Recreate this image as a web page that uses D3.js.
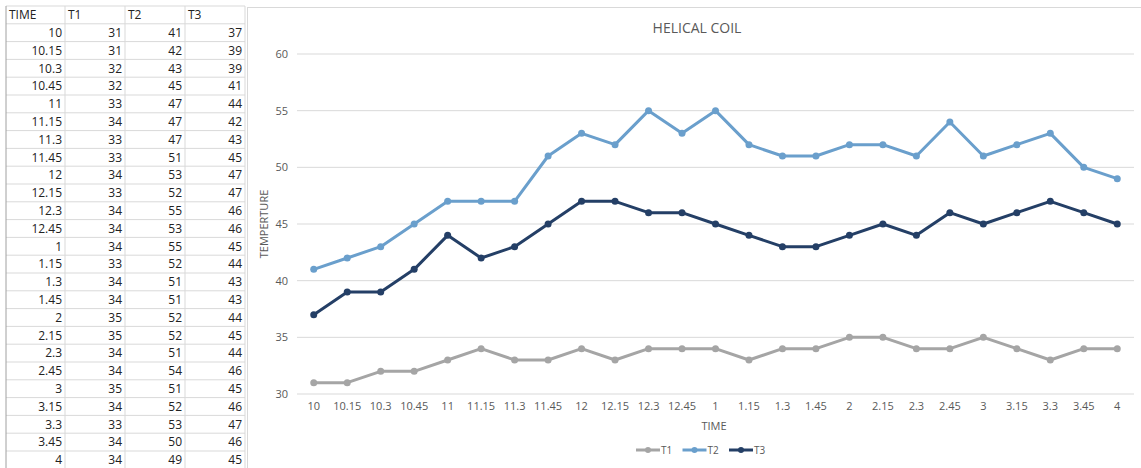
<!DOCTYPE html>
<html>
<head>
<meta charset="utf-8">
<script src="https://cdn.jsdelivr.net/npm/d3@7"></script>
<style>
  body { margin: 0; background: #fff; }
  svg { display: block; font-family: "Open Sans", "Noto Sans", sans-serif; }
</style>
</head>
<body>
<svg id="sheet" width="1141" height="468"></svg>
<script>
const times = ["10", "10.15", "10.3", "10.45", "11", "11.15", "11.3", "11.45", "12", "12.15", "12.3", "12.45",
  "1", "1.15", "1.3", "1.45", "2", "2.15", "2.3", "2.45", "3", "3.15", "3.3", "3.45", "4"];
const t1 = [31, 31, 32, 32, 33, 34, 33, 33, 34, 33, 34, 34, 34, 33, 34, 34, 35, 35, 34, 34, 35, 34, 33, 34, 34];
const t2 = [41, 42, 43, 45, 47, 47, 47, 51, 53, 52, 55, 53, 55, 52, 51, 51, 52, 52, 51, 54, 51, 52, 53, 50, 49];
const t3 = [37, 39, 39, 41, 44, 42, 43, 45, 47, 47, 46, 46, 45, 44, 43, 43, 44, 45, 44, 46, 45, 46, 47, 46, 45];
const headers = ["TIME", "T1", "T2", "T3"];
const yTicks = [30, 35, 40, 45, 50, 55, 60];

const series = [
  { name: "T1", values: t1, color: "#a5a5a5" },
  { name: "T2", values: t2, color: "#6a9fcc" },
  { name: "T3", values: t3, color: "#243f66" }
];

const svg = d3.select("#sheet");

// ---- spreadsheet table on the left ----
const colX = [6, 65, 125, 185, 245];
const rowTop = 6, rowH = 17.8;
const table = svg.append("g").attr("font-size", 12).attr("fill", "#222");
const rows = times.map((t, i) => [t, t1[i], t2[i], t3[i]]);

// grid lines
const nRows = rows.length + 1;
for (let r = 0; r <= nRows; r++) {
  table.append("line")
    .attr("x1", colX[0]).attr("x2", colX[4])
    .attr("y1", rowTop + r * rowH).attr("y2", rowTop + r * rowH)
    .attr("stroke", "#d9d9d9");
}
colX.forEach((x, i) => {
  table.append("line")
    .attr("x1", x).attr("x2", x)
    .attr("y1", rowTop).attr("y2", 468)
    .attr("stroke", i === 0 ? "#a0a0a0" : "#d9d9d9");
});

headers.forEach((h, i) => {
  table.append("text")
    .attr("x", colX[i] + 3).attr("y", rowTop + rowH / 2)
    .attr("dy", "0.35em")
    .text(h);
});
rows.forEach((row, r) => {
  row.forEach((v, c) => {
    table.append("text")
      .attr("x", colX[c + 1] - 3)
      .attr("y", rowTop + (r + 1.5) * rowH)
      .attr("dy", "0.35em")
      .attr("text-anchor", "end")
      .text(v);
  });
});

// ---- chart ----
const chart = svg.append("g");
chart.append("rect")
  .attr("x", 247.5).attr("y", 7.5)
  .attr("width", 900).attr("height", 470)
  .attr("fill", "#fff").attr("stroke", "#d9d9d9");

const margin = { left: 297, right: 1134, top: 54, bottom: 394 };

const x = d3.scaleBand()
  .domain(times)
  .range([margin.left, margin.right]);

const y = d3.scaleLinear()
  .domain([30, 60])
  .range([margin.bottom, margin.top]);

// gridlines
chart.append("g")
  .selectAll("line")
  .data(yTicks)
  .join("line")
  .attr("x1", margin.left).attr("x2", margin.right)
  .attr("y1", d => y(d)).attr("y2", d => y(d))
  .attr("stroke", "#d9d9d9");

// y axis labels
chart.append("g")
  .attr("transform", `translate(${margin.left - 6},0)`)
  .call(d3.axisLeft(y).tickValues(yTicks).tickSize(0).tickPadding(3))
  .call(g => g.select(".domain").remove())
  .call(g => g.selectAll("text").attr("fill", "#595959").attr("font-size", 11)
    .attr("font-family", "\"Open Sans\", sans-serif"));

// x axis labels
chart.append("g")
  .attr("transform", `translate(0,${margin.bottom + 8})`)
  .call(d3.axisBottom(x).tickSize(0).tickPadding(0))
  .call(g => g.select(".domain").remove())
  .call(g => g.selectAll("text").attr("fill", "#595959").attr("font-size", 11)
    .attr("font-family", "\"Open Sans\", sans-serif"));

// titles
chart.append("text")
  .attr("x", 697).attr("y", 28).attr("dy", "0.35em")
  .attr("text-anchor", "middle")
  .attr("font-size", 14).attr("fill", "#595959")
  .text("HELICAL COIL");

chart.append("text")
  .attr("x", 714).attr("y", 426).attr("dy", "0.35em")
  .attr("text-anchor", "middle")
  .attr("font-size", 11).attr("fill", "#595959")
  .text("TIME");

chart.append("text")
  .attr("transform", "translate(264,224) rotate(-90)")
  .attr("dy", "0.35em")
  .attr("text-anchor", "middle")
  .attr("font-size", 11).attr("fill", "#595959")
  .text("TEMPERTURE");

// lines + markers
const line = d3.line()
  .x((d, i) => x(times[i]) + x.bandwidth() / 2)
  .y(d => y(d));

series.forEach(s => {
  const g = chart.append("g");
  g.append("path")
    .attr("d", line(s.values))
    .attr("fill", "none")
    .attr("stroke", s.color)
    .attr("stroke-width", 3)
    .attr("stroke-linejoin", "round");
  g.selectAll("circle")
    .data(s.values)
    .join("circle")
    .attr("cx", (d, i) => x(times[i]) + x.bandwidth() / 2)
    .attr("cy", d => y(d))
    .attr("r", 3.5)
    .attr("fill", s.color);
});

// legend
const legend = chart.append("g").attr("transform", "translate(636,450)");
series.forEach((s, i) => {
  const lg = legend.append("g").attr("transform", `translate(${i * 46.5},0)`);
  lg.append("line").attr("x1", 0).attr("x2", 24).attr("stroke", s.color).attr("stroke-width", 3);
  lg.append("circle").attr("cx", 12).attr("r", 3).attr("fill", s.color);
  lg.append("text").attr("x", 25).attr("dy", "0.35em")
    .attr("font-size", 10).attr("fill", "#595959").text(s.name);
});
</script>
</body>
</html>
